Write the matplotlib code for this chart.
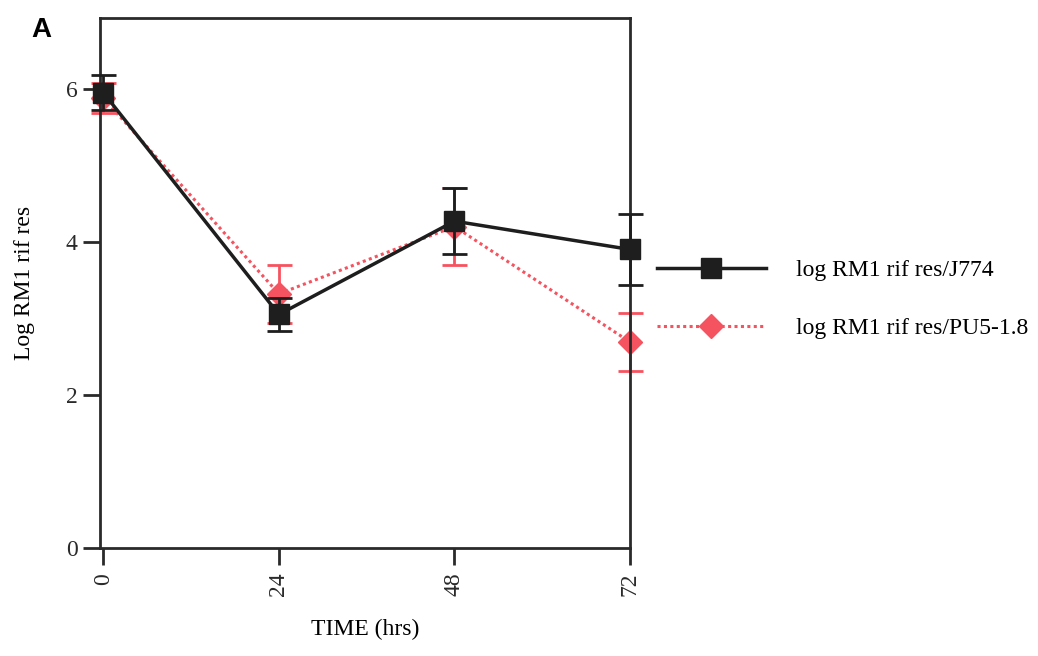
import matplotlib.pyplot as plt
from matplotlib.lines import Line2D

# tiempo en horas y log de RM1 resistentes a rifampicina
horas = [0, 24, 48, 72]
j774 = [5.95, 3.05, 4.27, 3.90]
j774_err = [0.23, 0.21, 0.43, 0.47]
pu5 = [5.88, 3.32, 4.20, 2.69]
pu5_err = [0.20, 0.38, 0.50, 0.38]
etiquetas = ["log RM1 rif res/J774", "log RM1 rif res/PU5-1.8"]

plt.rcParams["font.family"] = ["Liberation Serif", "DejaVu Serif"]

fig = plt.figure(figsize=(10.38, 6.56), dpi=100)
ax = fig.add_axes([0.096, 0.165, 0.511, 0.808])

rojo = "#f5535f"
negro = "#1e1e1e"

ax.errorbar(horas, pu5, yerr=pu5_err, color=rojo, linestyle=(0, (1, 1.1)),
            linewidth=2.2, marker="D", markersize=12, markeredgecolor=rojo,
            ecolor=rojo, elinewidth=2, capsize=9, capthick=2, zorder=2,
            clip_on=False)
ax.errorbar(horas, j774, yerr=j774_err, color=negro, linestyle="-",
            linewidth=2.5, marker="s", markersize=15, markeredgecolor=negro,
            ecolor=negro, elinewidth=2, capsize=9, capthick=2, zorder=3,
            clip_on=False)

ax.set_xlim(-0.5, 72)
ax.set_ylim(0, 6.93)
ax.set_xticks(horas)
ax.set_xticklabels([str(h) for h in horas], rotation=90)
ax.set_yticks([0, 2, 4, 6])

for s in ax.spines.values():
    s.set_linewidth(2)
    s.set_color("#2a2a2a")
ax.tick_params(direction="out", length=12, width=2, labelsize=17,
               colors="#2a2a2a", pad=4)
ax.tick_params(axis="x", pad=6)

ax.set_xlabel("TIME (hrs)", fontsize=17, labelpad=16)
ax.set_ylabel("Log RM1 rif res", fontsize=17, labelpad=22)

# leyenda sin barras de error
h_j774 = Line2D([], [], color=negro, linewidth=2.5, marker="s", markersize=15)
h_pu5 = Line2D([], [], color=rojo, linewidth=2.2, linestyle=(0, (1, 1.1)),
               marker="D", markersize=12)
fig.legend([h_j774, h_pu5], etiquetas, loc="center left",
           bbox_to_anchor=(0.633, 0.544), frameon=False, fontsize=17,
           handlelength=4.6, handletextpad=1.3, labelspacing=1.55,
           borderpad=0, borderaxespad=0)

fig.text(0.03, 0.955, "A", fontsize=20, fontweight="bold",
         family="Liberation Sans", va="center")

fig.savefig("out.png", dpi=100, facecolor="white")
